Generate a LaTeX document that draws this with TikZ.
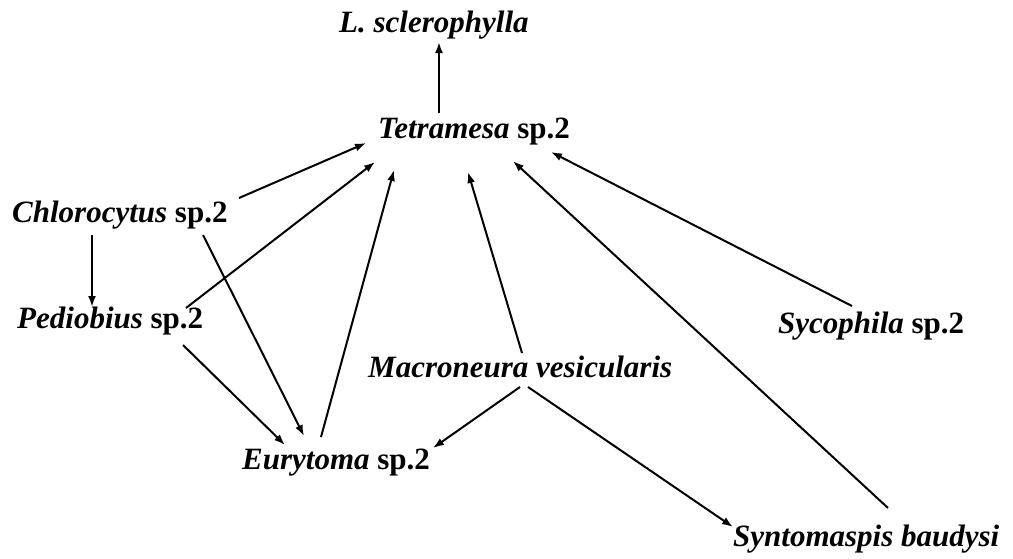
\documentclass[tikz,border=0pt]{standalone}
\usepackage{fontspec}
\setmainfont{Liberation Serif}
\usetikzlibrary{arrows.meta,calc}
\tikzset{
  taxon/.style={inner sep=0pt, anchor=base west, font=\fontsize{31}{37}\selectfont\bfseries},
  arr/.style={line width=2pt, -{Latex[length=11pt,width=8pt]}},
}
\begin{document}
\begin{tikzpicture}[x=1pt,y=-1pt]
\useasboundingbox[fill=white] (0,0) rectangle (1013,558);
\node[taxon] (ls)  at (339,32)  {\itshape L. sclerophylla};
\node[taxon] (tet) at (378,138) {\textit{Tetramesa} sp.2};
\node[taxon] (chl) at (12,222)  {\textit{Chlorocytus} sp.2};
\node[taxon] (ped) at (17,328)  {\textit{Pediobius} sp.2};
\node[taxon] (eur) at (242,469) {\textit{Eurytoma} sp.2};
\node[taxon] (mac) at (368,377) {\itshape Macroneura vesicularis};
\node[taxon] (syc) at (778,333) {\textit{Sycophila} sp.2};
\node[taxon] (syn) at (733,546) {\itshape Syntomaspis baudysi};

\draw[arr] ($(tet.base west)+(61,-25)$) -- ($(ls.base west)+(100,10)$);
\draw[arr] ($(chl.base west)+(227,-24)$) -- ($(tet.base west)+(-12,5)$);
\draw[arr] ($(ped.base west)+(169,-20)$) -- ($(tet.base west)+(-3,24)$);
\draw[arr] ($(eur.base west)+(79,-32)$) -- ($(tet.base west)+(16,32)$);
\draw[arr] ($(mac.base west)+(154,-24)$) -- ($(tet.base west)+(90,34)$);
\draw[arr] ($(syn.base west)+(155,-38)$) -- ($(tet.base west)+(135,23)$);
\draw[arr] ($(syc.base west)+(74,-27)$) -- ($(tet.base west)+(173,14)$);
\draw[arr] ($(chl.base west)+(80,13)$) -- ($(ped.base west)+(75,-21)$);
\draw[arr] ($(chl.base west)+(191,13)$) -- ($(eur.base west)+(62,-33)$);
\draw[arr] ($(ped.base west)+(166,17)$) -- ($(eur.base west)+(43,-24)$);
\draw[arr] ($(mac.base west)+(152,10)$) -- ($(eur.base west)+(191,-21)$);
\draw[arr] ($(mac.base west)+(160,10)$) -- ($(syn.base west)+(0,-19)$);
\end{tikzpicture}
\end{document}
